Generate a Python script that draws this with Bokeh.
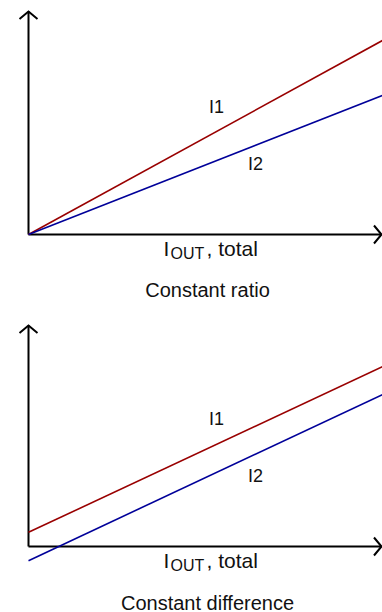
from bokeh.plotting import figure
from bokeh.layouts import column
from bokeh.models import Range1d, Label
from bokeh.embed import file_html
from bokeh.resources import INLINE

# ---- data (conceptual units) ----
iout = [0.0, 10.0]
ratio_i1 = [0.0, 5.48]
ratio_i2 = [0.0, 3.93]
diff_i1 = [0.40, 5.08]
diff_i2 = [-0.40, 4.29]
series_labels = ["I1", "I2"]
titles = ["Constant ratio", "Constant difference"]
xlabel_parts = ["I", "OUT", ", total"]

# ---- style ----
PX = 35.4          # screen pixels per data unit
W = 382
H = 306
RED = "#990000"
BLUE = "#000099"
FONT = "Liberation Sans"
HW, HL = 9.0, 7.5  # arrowhead half width / length (px)


def panel(i1, i2, title, axis_px, ytip_px, title_px):
    p = figure(width=W, height=H,
               x_range=Range1d(-28 / PX, (W - 28) / PX),
               y_range=Range1d(-(H - axis_px) / PX, axis_px / PX),
               output_backend="svg", toolbar_location=None,
               x_axis_type=None, y_axis_type=None, min_border=0)
    p.outline_line_color = None
    p.grid.visible = False
    ytip = (axis_px - ytip_px) / PX
    xtip = (W - 29) / PX
    # axes
    p.line([0, 0], [0, ytip], line_color="black", line_width=2)
    p.line([0, xtip], [0, 0], line_color="black", line_width=2)
    p.multi_line([[-HW / PX, 0, HW / PX], [xtip - HL / PX, xtip, xtip - HL / PX]],
                 [[ytip - HL / PX, ytip, ytip - HL / PX], [HW / PX, 0, -HW / PX]],
                 line_color="black", line_width=2, line_join="miter")
    # series
    p.line(iout, i1, line_color=RED, line_width=1.6)
    p.line(iout, i2, line_color=BLUE, line_width=1.6)
    p.add_layout(Label(x=(216 - 28) / PX, y=3.60, text=series_labels[0],
                       text_align="center", text_baseline="middle",
                       text_font=FONT, text_font_size="18px", text_color="#111111"))
    p.add_layout(Label(x=(255 - 28) / PX, y=2.0, text=series_labels[1],
                       text_align="center", text_baseline="middle",
                       text_font=FONT, text_font_size="18px", text_color="#111111"))
    # x label  I_OUT, total
    xl = (163 - 28) / PX
    yb = -14 / PX
    p.add_layout(Label(x=xl, y=yb, text=xlabel_parts[0], text_baseline="alphabetic",
                       text_font=FONT, text_font_size="21px", text_color="#111111"))
    p.add_layout(Label(x=xl, y=yb, x_offset=7, y_offset=-5, text=xlabel_parts[1],
                       text_baseline="alphabetic",
                       text_font=FONT, text_font_size="16px", text_color="#111111"))
    p.add_layout(Label(x=xl, y=yb, x_offset=43, text=xlabel_parts[2],
                       text_baseline="alphabetic",
                       text_font=FONT, text_font_size="21px", text_color="#111111"))
    # title
    p.add_layout(Label(x=(207 - 28) / PX, y=-title_px / PX, text=title,
                       text_align="center", text_baseline="alphabetic",
                       text_font=FONT, text_font_size="20px", text_color="#111111"))
    return p


p1 = panel(ratio_i1, ratio_i2, titles[0], 234, 11, 55)
p2 = panel(diff_i1, diff_i2, titles[1], 240, 19, 56)

lay = column(p1, p2)
open("out.html", "w").write(file_html(lay, INLINE))
